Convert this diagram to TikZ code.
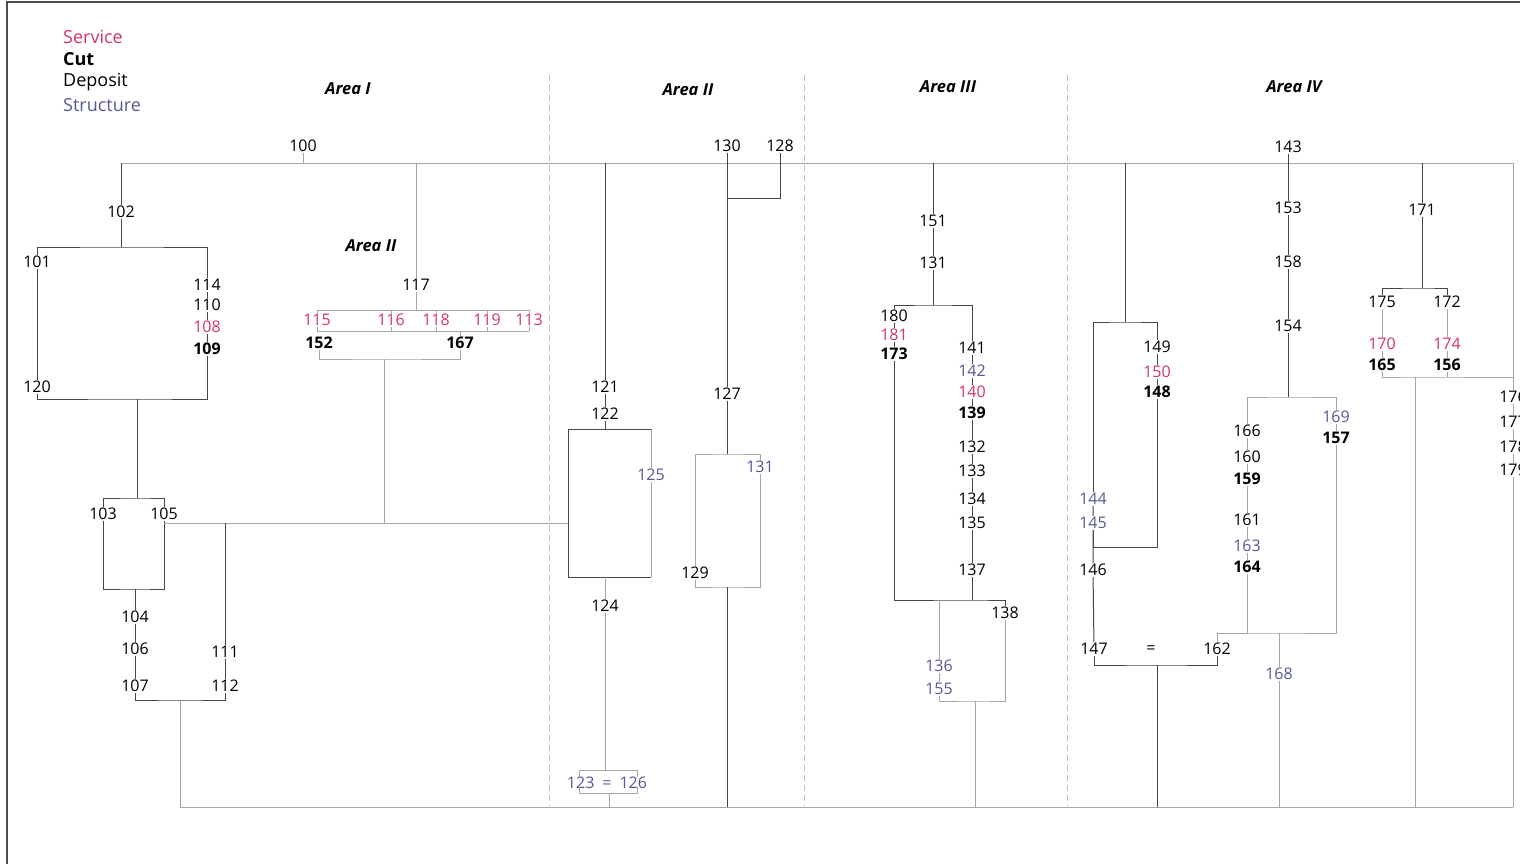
\documentclass[tikz,border=0pt]{standalone}
\usepackage{fontspec}
\setmainfont{Open Sans}
\usepackage{xcolor}
\usepackage{tikz}
\usetikzlibrary{positioning}
\definecolor{servcol}{RGB}{212,51,107}
\definecolor{strcol}{RGB}{88,88,150}
\definecolor{linedk}{RGB}{70,70,70}
\definecolor{linelt}{RGB}{165,165,165}
\tikzset{
    every node/.style={inner sep=1pt, font=\fontsize{16}{19}\selectfont},
    dep/.style={text=black},
    serv/.style={text=servcol},
    cutu/.style={text=black, font=\fontsize{16}{19}\selectfont\bfseries},
    strc/.style={text=strcol},
    legend/.style={anchor=west, font=\fontsize{18}{20}\selectfont},
    area/.style={font=\fontsize{16.5}{19}\selectfont\bfseries\itshape},
    dk/.style={draw=linedk, line width=1pt},
    lt/.style={draw=linelt, line width=1pt},
    sepline/.style={draw=black!25, dash pattern=on 6pt off 4pt, line width=1pt},
}

\begin{document}
\begin{tikzpicture}[x=1pt, y=-1pt]
    \useasboundingbox (0,0) rectangle (1520,864);
    \clip (0,0) rectangle (1520,864);
    \fill[white] (0,0) rectangle (1520,864);
    \draw[black!70, line width=1.5pt] (7,870) -- (7,2) -- (1525,2);

    % legend and areas
    \node[serv, legend] (lserv) at (62,37)  {Service};
    \node[legend, font=\fontsize{18}{20}\selectfont\bfseries] (lcut) at (62,59) {Cut};
    \node[dep,  legend] (ldep)  at (62,82)  {Deposit};
    \node[strc, legend] (lstr)  at (62,105) {Structure};
    \node[area] (aI)   at (348,89)  {Area I};
    \node[area] (aII)  at (688,90)  {Area II};
    \node[area] (aIII) at (948,87)  {Area III};
    \node[area] (aIV)  at (1294,87) {Area IV};
    \node[area] (aIIb) at (371,246) {Area II};
    \foreach \x in {549,804,1067}
        \draw[sepline] (\x,75) -- (\x,806);

    \coordinate (topL) at (121,163);
    \coordinate (topR) at (1513,163);
    \coordinate (botL) at (180,807);
    \coordinate (botR) at (1513,807);
    \draw[lt] (topL) -- (topR);
    \draw[lt] (botL) -- (botR);

    % Area I
    \node[dep]  (u100) at (303,146) {100};
    \node[dep]  (u102) at (121,212) {102};
    \node[dep]  (u101) at (37,262)  {101};
    \node[dep]  (u120) at (37,387)  {120};
    \node[dep]  (u114) at (207,285) {114};
    \node[dep]  (u110) at (207,305) {110};
    \node[serv] (u108) at (207,327) {108};
    \node[cutu] (u109) at (207,349) {109};
    \node[dep]  (u103) at (103,514) {103};
    \node[dep]  (u105) at (164,514) {105};
    \node[dep]  (u104) at (135,617) {104};
    \node[dep]  (u106) at (135,649) {106};
    \node[dep]  (u107) at (135,686) {107};
    \node[dep]  (u111) at (225,652) {111};
    \node[dep]  (u112) at (225,686) {112};
    \coordinate (j102) at (121,247);
    \coordinate (j120) at (137,399);
    \coordinate (j103) at (137,498);
    \coordinate (j104) at (135,589);
    \coordinate (j105) at (164,523);
    \coordinate (j122) at (568,523);
    \coordinate (j107) at (180,700);
    \draw[lt] (u100) -- (u100 |- topL);
    \draw[dk] (topL) -- (u102) -- (j102);
    \draw[dk] (u101) |- (j102) -| (u114);
    \draw[dk] (u114) -- (u110) -- (u108) -- (u109);
    \draw[dk] (u101) -- (u120);
    \draw[dk] (u120) |- (j120) -| (u109);
    \draw[dk] (j120) -- (j103);
    \draw[dk] (u103) |- (j103) -| (u105);
    \draw[dk] (u103) |- (j104) -| (u105);
    \draw[dk] (j104) -- (u104) -- (u106) -- (u107);
    \draw[lt] (j105) -- (j122);
    \draw[dk] (j105 -| u111) -- (u111) -- (u112);
    \draw[dk] (u107) |- (j107) -| (u112);
    \draw[lt] (j107) -- (botL);

    % Area II inside Area I
    \node[dep]  (u117) at (416,285) {117};
    \node[serv] (u115) at (317,320) {115};
    \node[serv] (u116) at (391,320) {116};
    \node[serv] (u118) at (436,320) {118};
    \node[serv] (u119) at (487,320) {119};
    \node[serv] (u113) at (529,320) {113};
    \node[cutu] (u152) at (319,343) {152};
    \node[cutu] (u167) at (460,343) {167};
    \coordinate (b117t) at (416,310);
    \coordinate (b117b) at (416,331);
    \coordinate (j152) at (384,359);
    \draw[lt] (topL -| u117) -- (u117) -- (b117t);
    \draw[lt] (u115 |- b117t) -- (u113 |- b117t);
    \draw[lt] (u115 |- b117b) -- (u113 |- b117b);
    \foreach \nm in {u115,u116,u118,u119,u113}
        \draw[lt] (\nm |- b117t) -- (\nm) -- (\nm |- b117b);
    \draw[lt] (u167 |- b117b) -- (u167);
    \draw[lt] (u152) |- (j152) -| (u167);
    \draw[lt] (j152) -- (j152 |- j105);

    % Area II
    \node[dep]  (u121) at (605,387) {121};
    \node[dep]  (u122) at (605,414) {122};
    \node[strc] (u125) at (651,475) {125};
    \node[dep]  (u124) at (605,606) {124};
    \node[strc] (u123) at (607,783) {123\enspace=\enspace126};
    \node[dep]  (u130) at (727,146) {130};
    \node[dep]  (u128) at (780,146) {128};
    \node[dep]  (u127) at (727,394) {127};
    \node[dep]  (u129) at (695,573) {129};
    \node[strc] (u131b) at (760,467) {131};
    \coordinate (c122a) at (568,429);
    \coordinate (c122b) at (651,429);
    \coordinate (c122c) at (568,577);
    \coordinate (c122d) at (651,577);
    \coordinate (j128) at (727,198);
    \coordinate (c127) at (727,454);
    \coordinate (c129) at (727,587);
    \draw[dk] (topL -| u121) -- (u121) -- (u122) -- (u122 |- c122a);
    \draw[dk] (c122b) -- (c122a) -- (c122c) -- (c122d);
    \draw[lt] (c122b) -- (u125) -- (c122d);
    \draw[lt] (c122c -| u124) -- (u124) -- (u124 |- 0,770);
    \draw[lt] (579,777) |- (637,770) -- (637,777);
    \draw[lt] (579,787) |- (637,793) -- (637,787);
    \draw[lt] (609,793) -- (botL -| 609,0);
    \draw[dk] (u130) -- (u127) -- (c127);
    \draw[dk] (u128) |- (j128);
    \draw[lt] (u129) |- (c127) -| (u131b);
    \draw[lt] (u129) |- (c129) -| (u131b);
    \draw[dk] (c129) -- (c129 |- botL);

    % Area III
    \node[dep]  (u151) at (933,221) {151};
    \node[dep]  (u131) at (933,263) {131};
    \node[dep]  (u180) at (894,316) {180};
    \node[serv] (u181) at (894,335) {181};
    \node[cutu] (u173) at (894,354) {173};
    \node[dep]  (u141) at (972,348) {141};
    \node[strc] (u142) at (972,371) {142};
    \node[serv] (u140) at (972,392) {140};
    \node[cutu] (u139) at (972,413) {139};
    \node[dep]  (u132) at (972,447) {132};
    \node[dep]  (u133) at (972,471) {133};
    \node[dep]  (u134) at (972,499) {134};
    \node[dep]  (u135) at (972,523) {135};
    \node[dep]  (u137) at (972,570) {137};
    \node[dep]  (u138) at (1005,613) {138};
    \node[strc] (u136) at (939,666) {136};
    \node[strc] (u155) at (939,689) {155};
    \coordinate (j131) at (933,305);
    \coordinate (j137) at (972,600);
    \coordinate (j155) at (975,701);
    \draw[dk] (topL -| u151) -- (u151) -- (u131) -- (j131);
    \draw[dk] (u180) |- (j131) -| (u141);
    \draw[dk] (u180) -- (u181) -- (u173);
    \draw[dk] (u141) -- (u142) -- (u140) -- (u139) -- (u132) -- (u133)
        -- (u134) -- (u135) -- (u137) -- (j137);
    \draw[dk] (u173) |- (j137) -| (u138);
    \draw[lt] (j137 -| u136) -- (u136) -- (u155);
    \draw[lt] (u155) |- (j155) -| (u138);
    \draw[lt] (j155) -- (j155 |- botL);

    % Area IV
    \node[dep]  (u149) at (1157,347) {149};
    \node[serv] (u150) at (1157,372) {150};
    \node[cutu] (u148) at (1157,392) {148};
    \node[strc] (u144) at (1093,499) {144};
    \node[strc] (u145) at (1093,523) {145};
    \node[dep]  (u146) at (1093,570) {146};
    \node[dep]  (u147) at (1094,649) {147};
    \node[dep]  (ueq)  at (1151,650) {=};
    \node[dep]  (u162) at (1217,649) {162};
    \coordinate (j149) at (1125,322);
    \coordinate (j148) at (1157,547);
    \coordinate (j147) at (1157,665);
    \draw[dk] (topL -| j149) -- (j149);
    \draw[dk] (u144) |- (j149) -| (u149);
    \draw[dk] (u149) -- (u150) -- (u148) -- (j148) -| (u145);
    \draw[dk] (u144) -- (u145) -- (u146) -- (u147);
    \draw[dk] (u147) |- (j147) -| (u162);
    \draw[dk] (j147) -- (j147 |- botL);

    \node[dep]  (u143) at (1288,147) {143};
    \node[dep]  (u153) at (1288,208) {153};
    \node[dep]  (u158) at (1288,262) {158};
    \node[dep]  (u154) at (1288,326) {154};
    \node[dep]  (u166) at (1247,431) {166};
    \node[dep]  (u160) at (1247,457) {160};
    \node[cutu] (u159) at (1247,479) {159};
    \node[dep]  (u161) at (1247,520) {161};
    \node[strc] (u163) at (1247,546) {163};
    \node[cutu] (u164) at (1247,567) {164};
    \node[strc] (u169) at (1336,417) {169};
    \node[cutu] (u157) at (1336,438) {157};
    \node[strc] (u168) at (1279,674) {168};
    \coordinate (j154) at (1288,397);
    \coordinate (j164) at (1279,633);
    \draw[dk] (u143) -- (u153) -- (u158) -- (u154) -- (j154);
    \draw[lt] (u166) |- (j154) -| (u169);
    \draw[lt] (u166) -- (u160) -- (u159) -- (u161) -- (u163) -- (u164) -- (u164 |- j164);
    \draw[lt] (u169) -- (u157);
    \draw[lt] (u162) |- (j164) -| (u157);
    \draw[lt] (j164) -- (u168) -- (u168 |- botL);

    \node[dep]  (u171) at (1422,210) {171};
    \node[dep]  (u175) at (1382,302) {175};
    \node[dep]  (u172) at (1447,302) {172};
    \node[serv] (u170) at (1382,344) {170};
    \node[cutu] (u165) at (1382,365) {165};
    \node[serv] (u174) at (1447,344) {174};
    \node[cutu] (u156) at (1447,365) {156};
    \node[dep]  (u176) at (1513,397) {176};
    \node[dep]  (u177) at (1513,422) {177};
    \node[dep]  (u178) at (1513,447) {178};
    \node[dep]  (u179) at (1513,470) {179};
    \coordinate (j171) at (1422,288);
    \coordinate (j165) at (1415,377);
    \draw[dk] (topL -| u171) -- (u171) -- (j171);
    \draw[dk] (u175) |- (j171) -| (u172);
    \draw[lt] (u175) -- (u170) -- (u165);
    \draw[lt] (u172) -- (u174) -- (u156);
    \draw[lt] (u165) |- (j165) -- (topR |- j165);
    \draw[lt] (u156) -- (u156 |- j165);
    \draw[lt] (j165) -- (j165 |- botL);
    \draw[lt] (topR) -- (u176) -- (u177) -- (u178) -- (u179) -- (botR);
\end{tikzpicture}
\end{document}
